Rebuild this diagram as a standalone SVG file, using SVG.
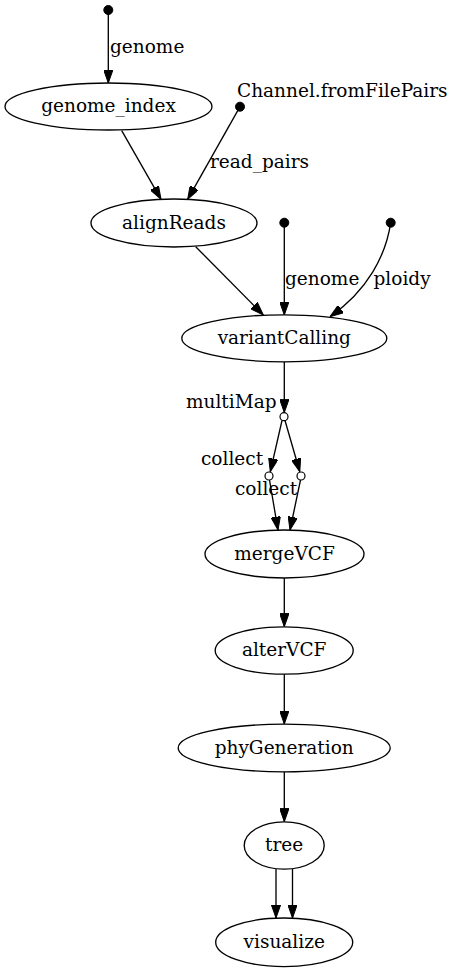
<svg xmlns="http://www.w3.org/2000/svg" width="454" height="972" viewBox="0 0 454 972">
<style>
.node ellipse{fill:#fff;stroke:#000;stroke-width:1.33}
.pt{fill:#000;stroke:#000;stroke-width:1}
.op{fill:#fff;stroke:#000;stroke-width:1.2}
text{font-family:"DejaVu Serif","Liberation Serif",serif;font-size:18.5px;fill:#000}
.c{text-anchor:middle}
#edges path{fill:none;stroke:#000;stroke-width:1.33;marker-end:url(#ah)}
</style>
<defs>
<marker id="ah" markerUnits="userSpaceOnUse" viewBox="0 0 13.3 9.4" refX="13.3" refY="4.7" markerWidth="13.3" markerHeight="9.4" orient="auto">
<path d="M0,0 L13.3,4.7 L0,9.4 z" fill="#000" stroke="#000" stroke-width="1"/>
</marker>
</defs>
<rect width="454" height="972" fill="#fff"/>
<g id="edges">
<path d="M108.3,10 L108.3,83"/>
<path d="M121.7,130.7 L161,199.3"/>
<path d="M240,106.7 L187.7,199.3"/>
<path d="M195.7,246.7 L263.3,315"/>
<path d="M284.3,222.7 L284.3,315"/>
<path d="M390.7,222.7 C386,255 368,290 330,316.7"/>
<path d="M284.3,361.7 L284.3,412.5"/>
<path d="M282,420.5 L270.3,471.7"/>
<path d="M285,420.5 L299.8,471.7"/>
<path d="M269.5,480 L278,530"/>
<path d="M300.5,480 L290,530"/>
<path d="M284.3,578 L284.3,626.7"/>
<path d="M284.3,674 L284.3,724"/>
<path d="M284.3,772 L284.3,821.7"/>
<path d="M276,869 L276,918"/>
<path d="M292.5,869 L292.5,918"/>
</g>
<g id="labels">
<text x="110" y="53">genome</text>
<text x="237" y="97">Channel.fromFilePairs</text>
<text x="210" y="168">read_pairs</text>
<text x="285" y="285">genome</text>
<text x="373.5" y="285">ploidy</text>
<text x="186" y="408">multiMap</text>
<text x="201" y="465">collect</text>
<text x="235" y="495">collect</text>
</g>
<g id="src_genome"><circle class="pt" cx="108.3" cy="10" r="4.5"/></g>
<g id="src_read_pairs"><circle class="pt" cx="240" cy="106.7" r="4.5"/></g>
<g id="src_genome2"><circle class="pt" cx="284.3" cy="222.7" r="4.5"/></g>
<g id="src_ploidy"><circle class="pt" cx="390.7" cy="222.7" r="4.5"/></g>
<g id="genome_index" class="node"><ellipse cx="108.5" cy="106.5" rx="103.5" ry="23.5"/><text class="c" x="108.5" y="112">genome_index</text></g>
<g id="alignReads" class="node"><ellipse cx="174" cy="223" rx="83" ry="24"/><text class="c" x="174" y="228.5">alignReads</text></g>
<g id="variantCalling" class="node"><ellipse cx="284.3" cy="338.3" rx="102.5" ry="23.5"/><text class="c" x="284.3" y="343.8">variantCalling</text></g>
<g id="multiMap"><circle class="op" cx="284" cy="416.7" r="4"/></g>
<g id="collect1"><circle class="op" cx="269" cy="476" r="4"/></g>
<g id="collect2"><circle class="op" cx="301" cy="476" r="4"/></g>
<g id="mergeVCF" class="node"><ellipse cx="284.5" cy="554" rx="79.5" ry="24"/><text class="c" x="284.5" y="559.5">mergeVCF</text></g>
<g id="alterVCF" class="node"><ellipse cx="284.2" cy="650.5" rx="69" ry="23.7"/><text class="c" x="284.2" y="656">alterVCF</text></g>
<g id="phyGeneration" class="node"><ellipse cx="284.2" cy="748" rx="106" ry="23.8"/><text class="c" x="284.2" y="753.5">phyGeneration</text></g>
<g id="tree" class="node"><ellipse cx="284.2" cy="845.5" rx="40" ry="23.7"/><text class="c" x="284.2" y="851">tree</text></g>
<g id="visualize" class="node"><ellipse cx="284.2" cy="942.3" rx="68.5" ry="24.3"/><text class="c" x="284.2" y="947.8">visualize</text></g>
</svg>
